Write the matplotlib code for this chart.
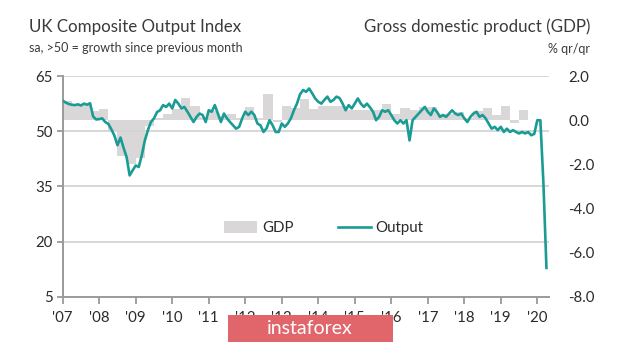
import numpy as np
import matplotlib
matplotlib.use("Agg")
import matplotlib.pyplot as plt
from matplotlib.patches import Patch, Rectangle
from matplotlib.lines import Line2D

# ---------------- data ----------------
start_year = 2007
# UK composite output PMI, monthly from Jan 2007 to Apr 2020
pmi = [
    58.3, 57.8, 57.4, 57.2, 57.1, 57.3, 57.0, 57.5, 57.2, 57.6, 54.0, 53.2,   # 2007
    53.3, 53.5, 52.5, 52.0, 50.5, 48.8, 46.2, 48.3, 45.5, 43.0, 38.0, 39.4,   # 2008
    40.7, 40.3, 43.5, 47.5, 50.3, 52.5, 53.5, 55.2, 55.7, 57.1, 56.6, 57.5,   # 2009
    56.2, 58.5, 57.5, 56.2, 56.6, 55.3, 53.9, 52.5, 53.9, 54.8, 54.4, 52.5,   # 2010
    55.7, 55.3, 57.1, 54.8, 52.5, 54.8, 53.5, 52.5, 51.6, 50.7, 51.2, 53.5,   # 2011
    55.3, 54.4, 55.3, 54.4, 52.1, 51.6, 49.8, 50.8, 53.0, 51.6, 49.8, 49.8,   # 2012
    52.1, 51.2, 52.1, 53.5, 55.7, 57.5, 60.0, 61.2, 60.7, 61.6, 60.3, 58.9,   # 2013
    58.0, 57.5, 58.5, 59.4, 58.0, 58.5, 59.4, 59.0, 57.5, 55.7, 57.1, 56.2,   # 2014
    57.5, 58.9, 57.5, 56.6, 57.5, 56.5, 55.3, 53.0, 53.9, 55.7, 55.3, 55.7,   # 2015
    54.4, 53.0, 52.1, 53.0, 52.1, 53.0, 47.5, 53.0, 53.9, 54.8, 55.7, 56.6,   # 2016
    55.3, 54.4, 56.2, 55.3, 53.9, 54.4, 53.9, 54.8, 55.7, 54.8, 54.4, 54.8,   # 2017
    53.5, 52.5, 53.9, 54.8, 55.3, 53.9, 54.4, 53.5, 52.1, 50.7, 51.2, 50.3,   # 2018
    51.2, 49.8, 50.7, 49.8, 50.3, 49.8, 49.4, 49.8, 49.4, 49.8, 48.9, 49.3,   # 2019
    53.0, 53.0, 36.0, 12.9,                                                   # 2020
]
# UK GDP, % q/q, quarterly from 2007 Q1 to 2019 Q4
gdp = [
    0.85, 0.75, 0.70, 0.40,
    0.50, -0.50, -1.60, -2.00,
    -1.70, -0.25, 0.10, 0.30,
    0.50, 1.00, 0.65, 0.15,
    0.40, 0.20, 0.30, 0.10,
    0.60, 0.10, 1.20, -0.10,
    0.65, 0.55, 0.95, 0.50,
    0.65, 0.65, 0.65, 0.45,
    0.45, 0.45, 0.45, 0.73,
    0.30, 0.55, 0.45, 0.60,
    0.60, 0.30, 0.30, 0.35,
    0.10, 0.40, 0.56, 0.23,
    0.64, -0.12, 0.48, 0.02,
]
years = list(range(2007, 2021))
year_labels = ["'07", "'08", "'09", "'10", "'11", "'12", "'13", "'14",
               "'15", "'16", "'17", "'18", "'19", "'20"]
left_ticks = [5, 20, 35, 50, 65]
right_ticks = [2.0, 0.0, -2.0, -4.0, -6.0, -8.0]

title_left = "UK Composite Output Index"
subtitle_left = "sa, >50 = growth since previous month"
title_right = "Gross domestic product (GDP)"
subtitle_right = "% qr/qr"

# ---------------- style ----------------
plt.rcParams['font.family'] = ['Lato', 'DejaVu Sans']
TEAL = '#1a9c94'
BARGREY = '#dad7d8'
GRID = '#d4d4d4'
AXGREY = '#9a9a9a'
TXT = '#2b2b2b'
TTL = '#3a3a3a'

W, H = 620, 344
fig = plt.figure(figsize=(W / 100, H / 100), dpi=100)
fig.patch.set_facecolor('white')

L, R, T, B = 62.7, 549, 76, 297
ax1 = fig.add_axes([L / W, 1 - B / H, (R - L) / W, (B - T) / H])
ax2 = ax1.twinx()

# bars (right axis)
qx = start_year + np.arange(len(gdp)) * 0.25
ax2.bar(qx, gdp, width=0.25, align='edge', color=BARGREY, linewidth=0)
ax2.set_ylim(-8, 2)
ax2.set_yticks(right_ticks)
ax2.set_yticklabels([f"{v:.1f}" for v in right_ticks])
ax2.tick_params(axis='y', length=0, pad=14, labelsize=10.8, labelcolor=TXT)
for s in ax2.spines.values():
    s.set_visible(False)

# line (left axis)
mx = start_year + np.arange(len(pmi)) / 12
ax1.set_zorder(ax2.get_zorder() + 1)
ax1.patch.set_visible(False)
ax1.plot(mx, pmi, color=TEAL, linewidth=1.9, solid_joinstyle='round', zorder=3)
ax1.set_ylim(5, 65)
ax1.set_yticks(left_ticks)
ax1.set_xlim(2007.0, 2020.32)
ax1.set_xticks(years)
ax1.set_xticklabels(year_labels)
for v in left_ticks[1:]:
    ax1.axhline(v, color=GRID, linewidth=1.3, zorder=0)
ax1.tick_params(axis='y', direction='out', length=4, width=1.3, color=AXGREY,
                labelsize=10.8, labelcolor=TXT, pad=3)
ax1.tick_params(axis='x', direction='out', length=5, width=1.3, color=AXGREY,
                labelsize=10.8, labelcolor=TXT, pad=5)
for k in ['top', 'right']:
    ax1.spines[k].set_visible(False)
for k in ['left', 'bottom']:
    ax1.spines[k].set_color(AXGREY)
    ax1.spines[k].set_linewidth(1.4)

# legend
handles = [Patch(facecolor=BARGREY, edgecolor='none', label='GDP'),
           Line2D([0], [0], color=TEAL, linewidth=1.9, label='Output')]
fig.legend(handles=handles, loc='center', bbox_to_anchor=(324 / W, 1 - 228 / H),
           ncol=2, frameon=False, fontsize=10.8, handlelength=2.2,
           handleheight=0.9, handletextpad=0.35, columnspacing=2.9,
           labelcolor=TXT)

# titles
fig.text(29 / W, 1 - 27 / H, title_left, fontsize=12.2, color=TTL,
         ha='left', va='center')
fig.text(29 / W, 1 - 48 / H, subtitle_left, fontsize=9.0, color=TTL,
         ha='left', va='center')
fig.text(590 / W, 1 - 27 / H, title_right, fontsize=12.2, color=TTL,
         ha='right', va='center')
fig.text(590 / W, 1 - 49 / H, subtitle_right, fontsize=9.0, color=TTL,
         ha='right', va='center')

# watermark
fig.patches.append(Rectangle((228 / W, 1 - 342 / H), (393 - 228) / W, (342 - 315) / H,
                             transform=fig.transFigure, facecolor='#e0666b',
                             edgecolor='none', zorder=5))
fig.text(310 / W, 1 - 329 / H, "instaforex", fontsize=14, color='white',
         ha='center', va='center', zorder=6)

fig.savefig('out.png', dpi=100, facecolor='white')
